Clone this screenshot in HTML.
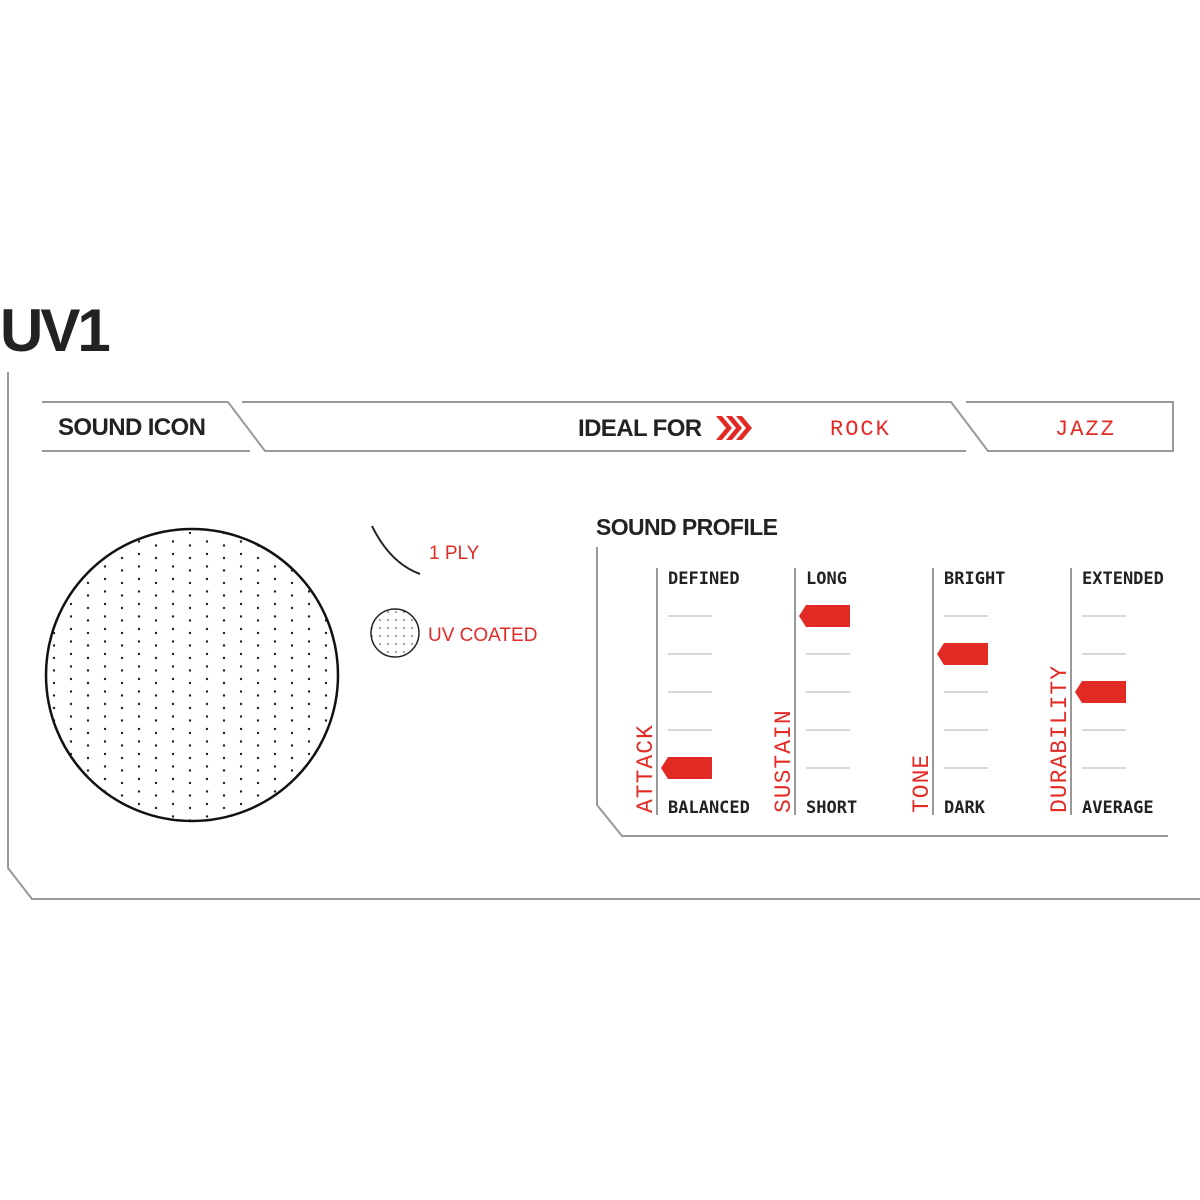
<!DOCTYPE html>
<html><head><style>body{margin:0;background:#fff}svg{display:block}</style></head><body>
<svg width="1200" height="1200" viewBox="0 0 1200 1200" xmlns="http://www.w3.org/2000/svg">
<defs>
<pattern id="dots" x="0" y="0" width="34" height="12.5" patternUnits="userSpaceOnUse"><circle cx="3" cy="4" r="1.2" fill="#222"/><circle cx="20" cy="8" r="1.2" fill="#222"/></pattern>
<pattern id="dots2" x="0" y="0" width="8" height="8" patternUnits="userSpaceOnUse"><circle cx="4" cy="4" r="0.8" fill="#333"/></pattern>
</defs>
<text x="0" y="351" font-family="Liberation Sans, sans-serif" font-weight="bold" font-size="60" fill="#222" letter-spacing="-3">UV1</text>
<g fill="none" stroke="#999" stroke-width="2">
<polyline points="8,372 8,868 32,899 1200,899"/>
<line x1="42" y1="402" x2="228" y2="402"/><polyline points="228,402 265,451 966,451"/>
<line x1="42" y1="451" x2="250" y2="451"/>
<polyline points="242,402 951,402 988,451 1173,451 1173,402 966,402"/>
<polyline points="597,547 597,805 622,836 1168,836"/>
</g>
<g font-family="Liberation Sans, sans-serif" font-weight="bold" font-size="24" fill="#222" letter-spacing="-0.6">
<text x="58" y="435">SOUND ICON</text>
<text x="578" y="436">IDEAL FOR</text>
<text x="596" y="535" font-size="23">SOUND PROFILE</text>
</g>
<g fill="#e32b26">
<polygon points="716,416 722,416 732,428 722,440 716,440 726,428"/>
<polygon points="726,416 732,416 742,428 732,440 726,440 736,428"/>
<polygon points="736,416 742,416 752,428 742,440 736,440 746,428"/>
</g>
<g font-family="Liberation Mono, monospace" font-size="22" fill="#e32b26" letter-spacing="2">
<text x="830" y="435">ROCK</text>
<text x="1055" y="435">JAZZ</text>
</g>
<circle cx="192" cy="675" r="146" fill="url(#dots)" stroke="#111" stroke-width="2.5"/>
<path d="M372,526 Q390,563 420,574" fill="none" stroke="#222" stroke-width="2"/>
<circle cx="395" cy="633" r="24" fill="url(#dots2)" stroke="#222" stroke-width="1.5"/>
<g font-family="Liberation Sans, sans-serif" font-size="19" fill="#e32b26">
<text x="429" y="559">1 PLY</text>
<text x="428" y="641">UV COATED</text>
</g>
<g stroke="#999" stroke-width="2"><line x1="657" y1="568" x2="657" y2="815"/><line x1="795" y1="568" x2="795" y2="815"/><line x1="933" y1="568" x2="933" y2="815"/><line x1="1071" y1="568" x2="1071" y2="815"/></g>
<g stroke="#ccc" stroke-width="1.5">
<line x1="668" y1="616" x2="712" y2="616"/><line x1="668" y1="654" x2="712" y2="654"/><line x1="668" y1="692" x2="712" y2="692"/><line x1="668" y1="730" x2="712" y2="730"/>
<line x1="806" y1="654" x2="850" y2="654"/><line x1="806" y1="692" x2="850" y2="692"/><line x1="806" y1="730" x2="850" y2="730"/><line x1="806" y1="768" x2="850" y2="768"/>
<line x1="944" y1="616" x2="988" y2="616"/><line x1="944" y1="692" x2="988" y2="692"/><line x1="944" y1="730" x2="988" y2="730"/><line x1="944" y1="768" x2="988" y2="768"/>
<line x1="1082" y1="616" x2="1126" y2="616"/><line x1="1082" y1="654" x2="1126" y2="654"/><line x1="1082" y1="730" x2="1126" y2="730"/><line x1="1082" y1="768" x2="1126" y2="768"/>
</g>
<g fill="#e32b26">
<polygon points="661,768 668,757 712,757 712,779 668,779"/>
<polygon points="799,616 806,605 850,605 850,627 806,627"/>
<polygon points="937,654 944,643 988,643 988,665 944,665"/>
<polygon points="1075,692 1082,681 1126,681 1126,703 1082,703"/>
</g>
<g font-family="DejaVu Sans Mono, monospace" font-weight="bold" font-size="17" fill="#222">
<text x="668" y="584">DEFINED</text><text x="668" y="813">BALANCED</text>
<text x="806" y="584">LONG</text><text x="806" y="813">SHORT</text>
<text x="944" y="584">BRIGHT</text><text x="944" y="813">DARK</text>
<text x="1082" y="584">EXTENDED</text><text x="1082" y="813">AVERAGE</text>
</g>
<g font-family="Liberation Mono, monospace" font-size="23" fill="#e32b26" letter-spacing="1">
<text transform="translate(652,813) rotate(-90)">ATTACK</text>
<text transform="translate(790,813) rotate(-90)">SUSTAIN</text>
<text transform="translate(928,813) rotate(-90)">TONE</text>
<text transform="translate(1066,813) rotate(-90)">DURABILITY</text>
</g>
</svg>
</body></html>
